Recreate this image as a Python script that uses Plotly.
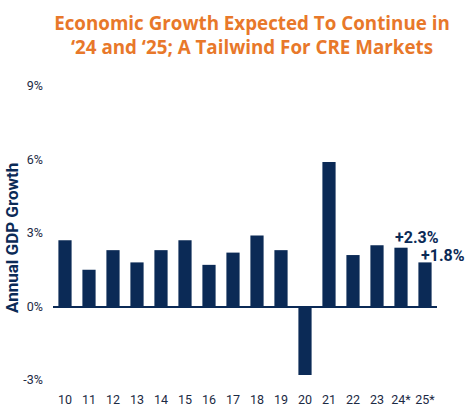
import plotly.graph_objects as go

years = ["10", "11", "12", "13", "14", "15", "16", "17", "18", "19", "20", "21", "22", "23", "24*", "25*"]
gdp_growth = [2.7, 1.5, 2.3, 1.8, 2.3, 2.7, 1.7, 2.2, 2.9, 2.3, -2.8, 5.9, 2.1, 2.5, 2.4, 1.8]
label_years = ["24*", "25*"]
label_values = [2.4, 1.8]
label_texts = ["+2.3%", "+1.8%"]
y_ticks = [-3, 0, 3, 6, 9]
y_tick_text = ["-3%", "0%", "3%", "6%", "9%"]

navy = "#0b2a56"
orange = "#E8782A"

fig = go.Figure(go.Bar(x=years, y=gdp_growth, marker_color=navy, marker_line_width=0))

for yr, v, t, xs, ys in zip(label_years, label_values, label_texts, [16, 18], [10, 7]):
    fig.add_annotation(x=yr, y=v, text="<b>%s</b>" % t, showarrow=False,
                       yanchor="middle", xanchor="center", xshift=xs, yshift=ys,
                       borderpad=0,
                       font=dict(family="Roboto", size=16, color=navy))

fig.add_annotation(xref="paper", yref="paper", x=(12 - 53) / 384, y=(380 - 238) / 294,
                   text="<b>Annual GDP Growth</b>", textangle=-90, showarrow=False,
                   xanchor="center", yanchor="middle",
                   font=dict(family="Roboto", size=17, color=navy))

fig.update_layout(
    width=474, height=412,
    margin=dict(l=53, r=37, t=86, b=32, autoexpand=False),
    paper_bgcolor="white", plot_bgcolor="white",
    bargap=0.45,
    showlegend=False,
    title=dict(text="<b>Economic Growth Expected To Continue in<br>‘24 and ‘25; A Tailwind For CRE Markets</b>",
               x=252 / 474, xanchor="center", xref="container",
               y=1 - 29.5 / 412, yanchor="middle", yref="container",
               font=dict(family="Open Sans", size=18.8, color=orange)),
    font=dict(family="Roboto", size=12.5, color="#1c2a44"),
)
fig.update_xaxes(range=[-0.5, len(years) - 0.5], autorange=False, automargin=False,
                 showgrid=False, showline=False, ticks="",
                 tickfont=dict(size=12.5, color="#1c2a44"), ticklabelstandoff=10)
fig.update_yaxes(range=[-3, 9], autorange=False, automargin=False,
                 tickvals=y_ticks, ticktext=y_tick_text, showgrid=False,
                 zeroline=True, zerolinecolor=navy, zerolinewidth=1.5, showline=False,
                 tickfont=dict(size=12.5, color="#1c2a44"), ticklabelstandoff=9)

fig.write_html("out.html", config={"responsive": False, "displayModeBar": False},
               post_script="document.body.style.margin='0';document.body.style.overflow='hidden';")
